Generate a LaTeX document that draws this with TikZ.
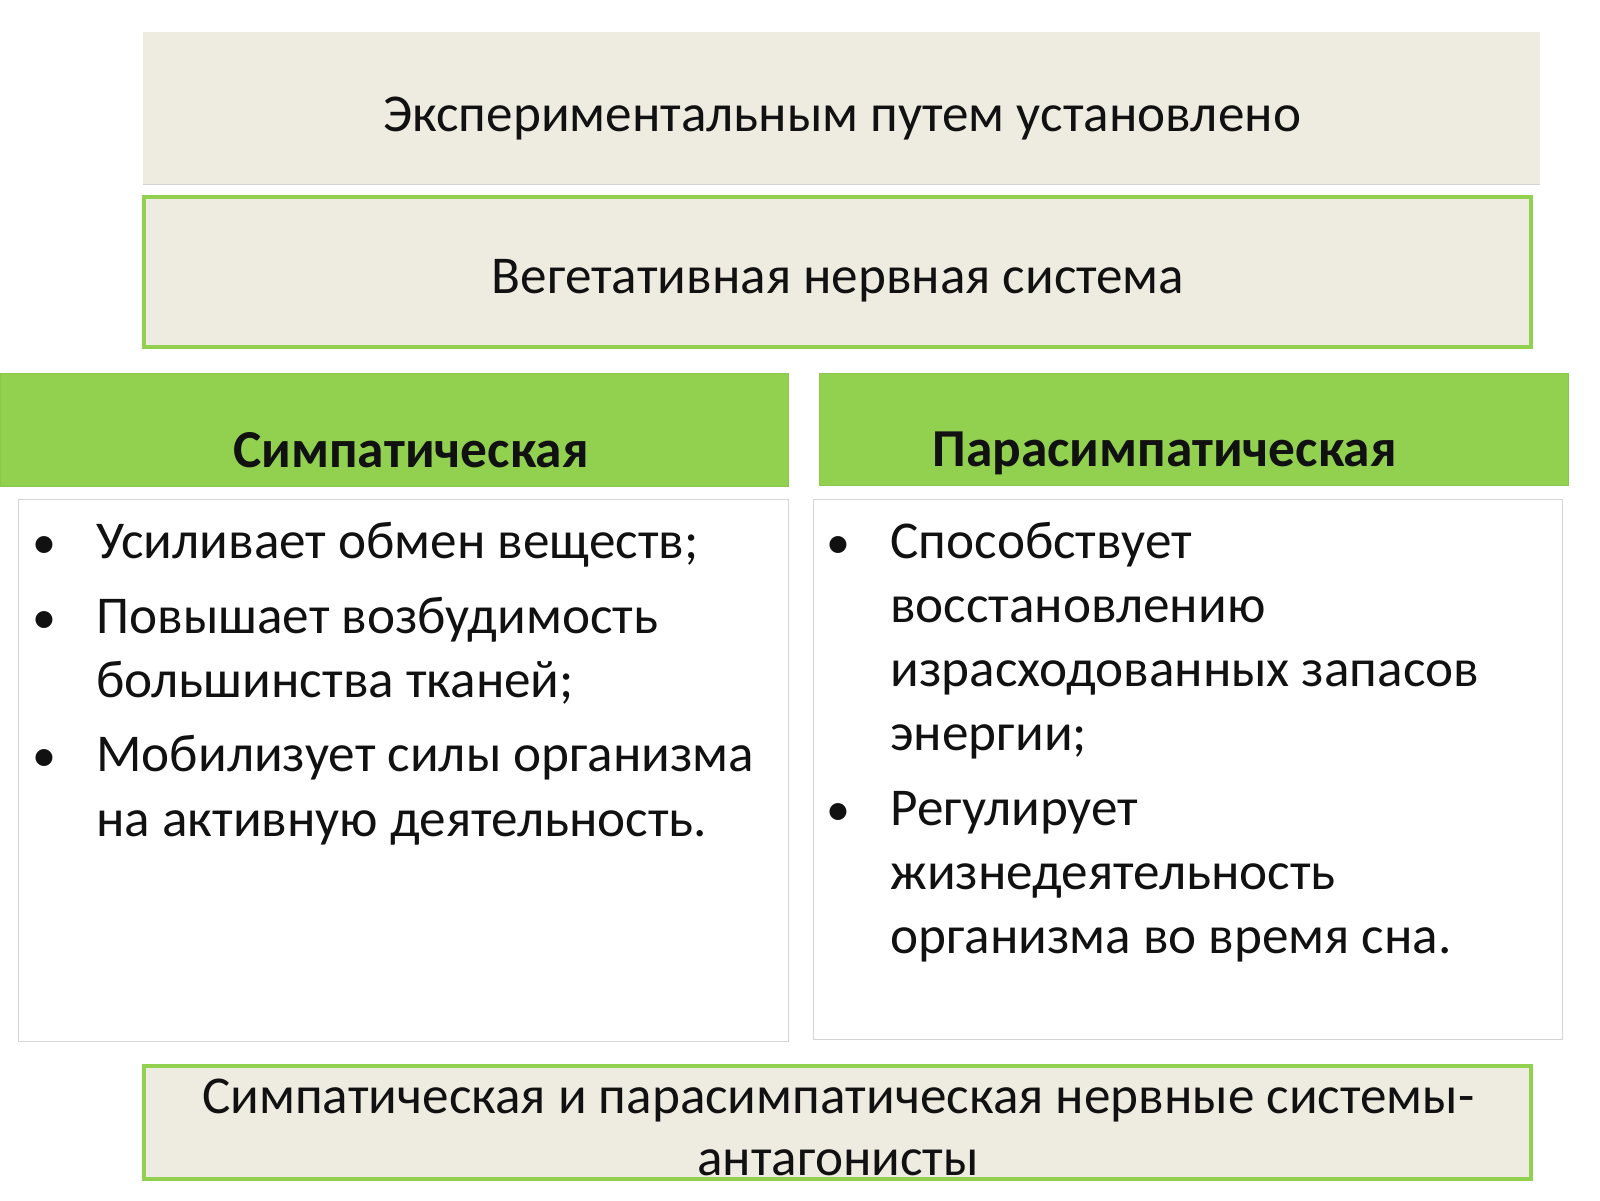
\documentclass[tikz,border=0pt]{standalone}
\usepackage{fontspec}
\setmainfont{Carlito}
\definecolor{beige}{HTML}{EEECE1}
\definecolor{lgreen}{HTML}{92D050}
\definecolor{edgegreen}{HTML}{8DC64C}
\definecolor{lgray}{HTML}{D4D4D4}
\definecolor{txt}{HTML}{111111}
\begin{document}
\begin{tikzpicture}[x=0.5pt,y=-0.5pt,
  bigtxt/.style={font=\fontsize{26.6}{32}\selectfont, text=txt, inner sep=0pt},
  headtxt/.style={font=\fontsize{26.7}{32}\selectfont\bfseries, text=txt, inner sep=0pt, anchor=base west},
  bodytxt/.style={font=\fontsize{26.6}{32}\selectfont, text=txt, inner sep=0pt, anchor=base west},
  bulletmark/.style={font=\fontsize{24}{30}\selectfont, text=txt, inner sep=0pt, anchor=base},
  greenframe/.style={fill=beige, draw=lgreen, line width=2pt},
  headbox/.style={fill=lgreen, draw=edgegreen, line width=0.4pt},
  contentbox/.style={fill=white, draw=lgray, line width=0.5pt}]
\useasboundingbox (0,0) rectangle (1600,1200);
\fill[white] (0,0) rectangle (1600,1200);

% top box
\fill[beige] (143,32) rectangle (1540,184);
\draw[lgray, line width=0.5pt] (143,184) -- (1540,184);
\node[bigtxt, anchor=base] (top) at (842,131) {Экспериментальным путем установлено};

% vegetative box
\draw[greenframe] (144,197) rectangle (1531,347);
\node[bigtxt, anchor=base] (veg) at (838,293) {Вегетативная нервная система};

% headers
\draw[headbox] (0,373) rectangle (788,486);
\draw[headbox] (819,373) rectangle (1568,485);
\node[headtxt] (symh) at (233,467) {Симпатическая};
\node[headtxt] (parh) at (932,466) {Парасимпатическая};

% content boxes
\draw[contentbox] (18,499) rectangle (788,1041);
\draw[contentbox] (813,499) rectangle (1562,1039);

% left bullets
\node[bulletmark] (lb1) at (44,558) {•};
\node[bodytxt] (l1) at (96,558) {Усиливает обмен веществ;};
\node[bulletmark] (lb2) at (44,633) {•};
\node[bodytxt] (l2a) at (96,633) {Повышает возбудимость};
\node[bodytxt] (l2b) at (96,697) {большинства тканей;};
\node[bulletmark] (lb3) at (44,771) {•};
\node[bodytxt] (l3a) at (96,771) {Мобилизует силы организма};
\node[bodytxt] (l3b) at (96,836) {на активную деятельность.};

% right bullets
\node[bulletmark] (rb1) at (838,558) {•};
\node[bodytxt] (r1a) at (890,558) {Способствует};
\node[bodytxt] (r1b) at (890,622) {восстановлению};
\node[bodytxt] (r1c) at (890,686) {израсходованных запасов};
\node[bodytxt] (r1d) at (890,750) {энергии;};
\node[bulletmark] (rb2) at (838,825) {•};
\node[bodytxt] (r2a) at (890,825) {Регулирует};
\node[bodytxt] (r2b) at (890,889) {жизнедеятельность};
\node[bodytxt] (r2c) at (890,953) {организма во время сна.};

% bottom box
\fill[beige] (144,1066) rectangle (1531,1179);
\node[bigtxt, anchor=base] (bot1) at (838,1113) {Симпатическая и парасимпатическая нервные системы-};
\node[bigtxt, anchor=base] (bot2) at (838,1175) {антагонисты};
\draw[lgreen, line width=2pt] (144,1066) rectangle (1531,1179);
\end{tikzpicture}
\end{document}
